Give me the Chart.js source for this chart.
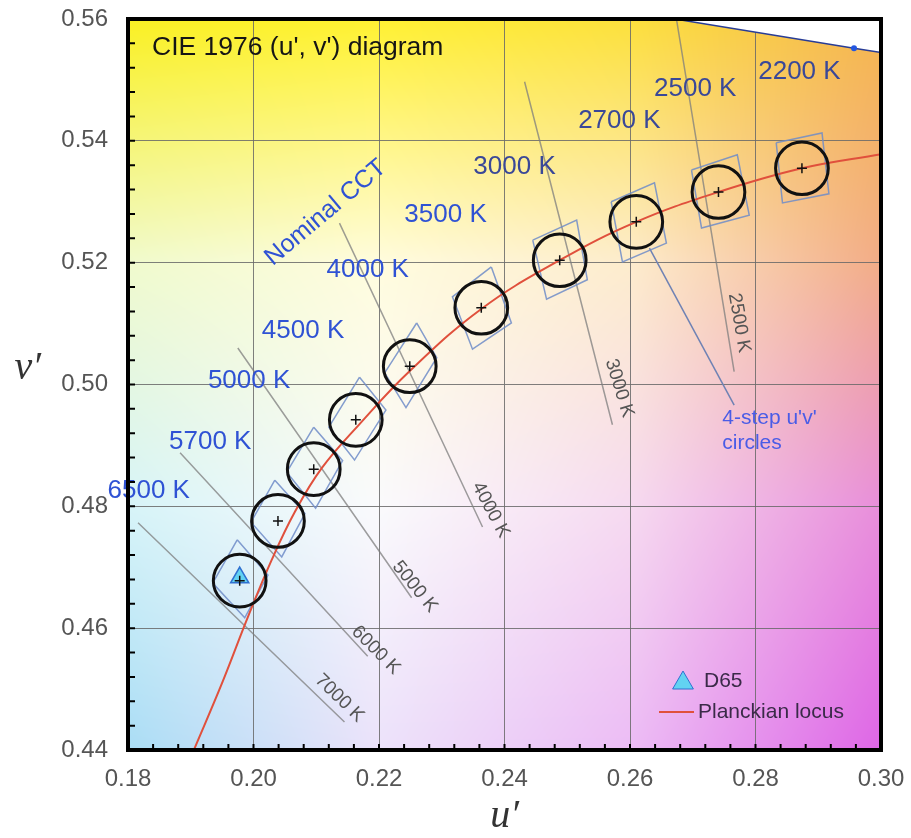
<!DOCTYPE html>
<html>
<head>
<meta charset="utf-8">
<title>CIE 1976 (u', v') diagram</title>
<script src="https://cdn.jsdelivr.net/npm/chart.js@4.4.0/dist/chart.umd.min.js"></script>
<style>
  html, body { margin: 0; padding: 0; background: #fff; }
  #wrap { width: 911px; height: 838px; }
</style>
</head>
<body>
<div id="wrap"><canvas id="cieChart" width="911" height="838"></canvas></div>
<script>
// ---- values, in (u', v') ----

// nominal CCT of each 4-step circle and its centre
var cctLabels = ['6500 K', '5700 K', '5000 K', '4500 K', '4000 K', '3500 K', '3000 K', '2700 K', '2500 K', '2200 K'];
var centerU = [0.1978, 0.2039, 0.2096, 0.2163, 0.2249, 0.2363, 0.2488, 0.2610, 0.2741, 0.2874];
var centerV = [0.4678, 0.4776, 0.4861, 0.4942, 0.5030, 0.5126, 0.5204, 0.5267, 0.5316, 0.5355];
var circleRadius = 0.0042;   // radius of the 4-step circles in u'v' units

// where the blue nominal CCT labels sit
var cctLabelU = [0.1833, 0.1931, 0.1993, 0.2079, 0.2182, 0.2306, 0.2416, 0.2583, 0.2704, 0.2870];
var cctLabelV = [0.4825, 0.4906, 0.5006, 0.5088, 0.5188, 0.5278, 0.5357, 0.5433, 0.5485, 0.5513];

// quadrangle corners round every nominal CCT (same order as cctLabels)
var quadU = [
  [0.1974, 0.2023, 0.1986, 0.1935],
  [0.2034, 0.2082, 0.2045, 0.1996],
  [0.2096, 0.2142, 0.2099, 0.2053],
  [0.2169, 0.2211, 0.2161, 0.2120],
  [0.2260, 0.2292, 0.2243, 0.2209],
  [0.2379, 0.2411, 0.2349, 0.2317],
  [0.2445, 0.2515, 0.2532, 0.2467],
  [0.2570, 0.2639, 0.2658, 0.2588],
  [0.2698, 0.2771, 0.2790, 0.2714],
  [0.2833, 0.2906, 0.2917, 0.2843]
];
var quadV = [
  [0.4745, 0.4687, 0.4617, 0.4674],
  [0.4843, 0.4788, 0.4717, 0.4774],
  [0.4930, 0.4875, 0.4797, 0.4856],
  [0.5012, 0.4958, 0.4876, 0.4930],
  [0.5101, 0.5044, 0.4962, 0.5019],
  [0.5193, 0.5101, 0.5058, 0.5144],
  [0.5237, 0.5270, 0.5172, 0.5140],
  [0.5300, 0.5331, 0.5232, 0.5201],
  [0.5352, 0.5377, 0.5278, 0.5257],
  [0.5397, 0.5413, 0.5313, 0.5298]
];

// Planckian locus
var locusU = [0.1905, 0.1950, 0.1991, 0.2029, 0.2066, 0.2109, 0.2169, 0.2249, 0.2363, 0.2488, 0.2610, 0.2741, 0.2874, 0.3000];
var locusV = [0.4400, 0.4510, 0.4618, 0.4712, 0.4791, 0.4863, 0.4935, 0.5022, 0.5124, 0.5204, 0.5267, 0.5316, 0.5355, 0.5378];

// isotemperature lines with their labels
var isoLabels = ['7000 K', '6000 K', '5000 K', '4000 K', '3000 K', '2500 K'];
var isoStartU = [0.1816, 0.1883, 0.1975, 0.2137, 0.2432, 0.2674];
var isoStartV = [0.4773, 0.4888, 0.5060, 0.5265, 0.5497, 0.5600];
var isoEndU = [0.2145, 0.2182, 0.2252, 0.2365, 0.2572, 0.2766];
var isoEndV = [0.4446, 0.4554, 0.4650, 0.4766, 0.4934, 0.5021];
var isoLabelU = [0.2137, 0.2195, 0.2257, 0.2378, 0.2583, 0.2774];
var isoLabelV = [0.4485, 0.4564, 0.4668, 0.4794, 0.4994, 0.5101];
var isoLabelAngle = [44, 45, 51, 62, 73, 80];

// edge of the spectrum locus in the top right corner
var spectralU = [0.2600, 0.2957, 0.3050];
var spectralV = [0.5612, 0.5552, 0.5537];
var spectralDot = { u: 0.2957, v: 0.5552 };

// D65 white point
var d65 = { u: 0.1978, v: 0.4683 };

// pointer from the "4-step u'v' circles" note
var pointerU = [0.2631, 0.2766];
var pointerV = [0.5224, 0.4966];
var noteU = 0.2747, noteV = [0.4945, 0.4904];
var noteLines = ["4-step u'v'", 'circles'];

// axes
var uMin = 0.18, uMax = 0.30, vMin = 0.44, vMax = 0.56, majorStep = 0.02, minorStep = 0.004;

// ---- build the datasets ----
function pairs(us, vs) {
  return us.map(function (u, i) { return { x: u, y: vs[i] }; });
}

// all quadrangles in one dataset, separated by gaps
var quadPoints = [];
quadU.forEach(function (row, i) {
  for (var k = 0; k <= 4; k++) {
    quadPoints.push({ x: row[k % 4], y: quadV[i][k % 4] });
  }
  quadPoints.push({ x: null, y: null });
});

var isoPoints = [];
isoStartU.forEach(function (u, i) {
  isoPoints.push({ x: u, y: isoStartV[i] });
  isoPoints.push({ x: isoEndU[i], y: isoEndV[i] });
  isoPoints.push({ x: null, y: null });
});

var fontSans = 'Liberation Sans, Arial, sans-serif';

// background colour field of the diagram (4 x 4 control colours)
var bgColors = [
  [[250, 240, 35], [255, 241, 50], [252, 224, 60], [245, 182, 78]],
  [[240, 250, 205], [255, 252, 222], [253, 236, 205], [242, 172, 135]],
  [[215, 244, 248], [250, 250, 252], [246, 218, 240], [232, 142, 218]],
  [[170, 221, 245], [236, 226, 250], [236, 188, 245], [222, 102, 230]]
];

var backgroundPlugin = {
  id: 'cieBackground',
  beforeDraw: function (chart) {
    var a = chart.chartArea, ctx = chart.ctx;
    var w = Math.round(a.right - a.left), h = Math.round(a.bottom - a.top);
    var img = ctx.createImageData(w, h);
    for (var py = 0; py < h; py++) {
      var fy = py / (h - 1) * 3, r0 = Math.min(2, Math.floor(fy)), ty = fy - r0;
      for (var px = 0; px < w; px++) {
        var fx = px / (w - 1) * 3, c0 = Math.min(2, Math.floor(fx)), tx = fx - c0;
        var k = (py * w + px) * 4;
        for (var ch = 0; ch < 3; ch++) {
          var top = bgColors[r0][c0][ch] * (1 - tx) + bgColors[r0][c0 + 1][ch] * tx;
          var bot = bgColors[r0 + 1][c0][ch] * (1 - tx) + bgColors[r0 + 1][c0 + 1][ch] * tx;
          img.data[k + ch] = top * (1 - ty) + bot * ty;
        }
        img.data[k + 3] = 255;
      }
    }
    ctx.putImageData(img, Math.round(a.left), Math.round(a.top));
  }
};

function drawText(ctx, text, x, y, font, color, angle, align) {
  ctx.save();
  ctx.translate(x, y);
  ctx.rotate((angle || 0) * Math.PI / 180);
  ctx.font = font;
  ctx.fillStyle = color;
  ctx.textAlign = align || 'center';
  ctx.textBaseline = 'middle';
  ctx.fillText(text, 0, 0);
  ctx.restore();
}

var annotationPlugin = {
  id: 'cieAnnotations',
  afterDraw: function (chart) {
    var ctx = chart.ctx, xs = chart.scales.x, ys = chart.scales.y, a = chart.chartArea;

    // nominal CCT labels
    cctLabels.forEach(function (t, i) {
      var col = i < 6 ? '#2f52d4' : '#3a4898';
      drawText(ctx, t, xs.getPixelForValue(cctLabelU[i]), ys.getPixelForValue(cctLabelV[i]),
        '26px ' + fontSans, col, 0);
    });
    drawText(ctx, 'Nominal CCT', xs.getPixelForValue(0.2115), ys.getPixelForValue(0.5282),
      '25px ' + fontSans, '#2f52d4', -40);

    // isotemperature line labels
    isoLabels.forEach(function (t, i) {
      drawText(ctx, t, xs.getPixelForValue(isoLabelU[i]), ys.getPixelForValue(isoLabelV[i]),
        '19px ' + fontSans, '#555555', isoLabelAngle[i]);
    });

    // note for the circles
    noteLines.forEach(function (t, i) {
      drawText(ctx, t, xs.getPixelForValue(noteU), ys.getPixelForValue(noteV[i]),
        '21px ' + fontSans, '#4a5ce6', 0, 'left');
    });

    // title inside the plot
    drawText(ctx, "CIE 1976 (u', v') diagram", a.left + 24, a.top + 29, '26.5px ' + fontSans, '#151515', 0, 'left');

    // legend
    var lx = a.right - 198, ly = a.bottom - 69;
    ctx.save();
    ctx.fillStyle = '#62d2f2';
    ctx.strokeStyle = '#2f70d0';
    Chart.helpers.drawPoint(ctx, { pointStyle: 'triangle', radius: 12, borderWidth: 1.5, rotation: 0 }, lx, ly + 2);
    ctx.restore();
    drawText(ctx, 'D65', lx + 21, ly, '21px ' + fontSans, '#3a2a48', 0, 'left');
    ctx.save();
    ctx.strokeStyle = '#e0503c';
    ctx.lineWidth = 2;
    ctx.beginPath();
    ctx.moveTo(lx - 24, ly + 31);
    ctx.lineTo(lx + 11, ly + 31);
    ctx.stroke();
    ctx.restore();
    drawText(ctx, 'Planckian locus', lx + 15, ly + 31, '21px ' + fontSans, '#3a2a48', 0, 'left');

    // minor ticks pointing into the plot
    ctx.save();
    ctx.strokeStyle = '#000';
    ctx.lineWidth = 2;
    ctx.beginPath();
    for (var i = 1; i < Math.round((uMax - uMin) / minorStep); i++) {
      var px = xs.getPixelForValue(uMin + i * minorStep);
      ctx.moveTo(px, a.bottom);
      ctx.lineTo(px, a.bottom - 6);
    }
    for (var j = 1; j < Math.round((vMax - vMin) / minorStep); j++) {
      var py = ys.getPixelForValue(vMin + j * minorStep);
      ctx.moveTo(a.left, py);
      ctx.lineTo(a.left + 7, py);
    }
    ctx.stroke();

    // frame
    ctx.lineWidth = 4;
    ctx.strokeRect(a.left, a.top, a.right - a.left, a.bottom - a.top);
    ctx.restore();

    // axis titles
    drawText(ctx, 'u\u2032', (a.left + a.right) / 2, 816, 'italic 40px Liberation Serif, serif', '#333', 0);
    drawText(ctx, 'v\u2032', 41, 368, 'italic 40px Liberation Serif, serif', '#333', 0, 'right');
  }
};

var datasets = [
  {
    label: 'spectrum locus',
    type: 'line',
    data: pairs(spectralU, spectralV),
    borderColor: '#283c96',
    borderWidth: 1.5,
    backgroundColor: '#ffffff',
    fill: 'end',
    pointRadius: 0,
    tension: 0,
    order: 20
  },
  {
    label: 'isotemperature lines',
    type: 'line',
    data: isoPoints,
    borderColor: 'rgba(125,125,125,0.75)',
    borderWidth: 1.5,
    pointRadius: 0,
    fill: false,
    spanGaps: false,
    tension: 0,
    order: 19
  },
  {
    label: 'pointer',
    type: 'line',
    data: pairs(pointerU, pointerV),
    borderColor: '#6f82b4',
    borderWidth: 1.5,
    pointRadius: 0,
    fill: false,
    tension: 0,
    order: 18
  },
  {
    label: 'quadrangles',
    type: 'line',
    data: quadPoints,
    borderColor: 'rgba(110,140,200,0.85)',
    borderWidth: 1.5,
    pointRadius: 0,
    fill: false,
    spanGaps: false,
    tension: 0,
    order: 17
  },
  {
    label: 'Planckian locus',
    type: 'line',
    data: pairs(locusU, locusV),
    borderColor: '#e0503c',
    borderWidth: 2,
    pointRadius: 0,
    fill: false,
    tension: 0.4,
    order: 16
  },
  {
    label: '4-step circles',
    type: 'scatter',
    data: pairs(centerU, centerV),
    showLine: false,
    pointStyle: 'circle',
    pointRadius: function (c) {
      var s = c.chart.scales.x;
      return s.getPixelForValue(uMin + circleRadius) - s.getPixelForValue(uMin);
    },
    pointBorderWidth: 3,
    pointBorderColor: '#111',
    pointBackgroundColor: 'rgba(0,0,0,0)',
    order: 15
  },
  {
    label: 'D65',
    type: 'scatter',
    data: [{ x: d65.u, y: d65.v }],
    pointStyle: 'triangle',
    pointRadius: 10.5,
    pointBorderWidth: 1.5,
    pointBorderColor: '#2f70d0',
    pointBackgroundColor: '#62d2f2',
    order: 14
  },
  {
    label: 'centres',
    type: 'scatter',
    data: pairs(centerU, centerV),
    pointStyle: 'cross',
    pointRadius: 5,
    pointBorderWidth: 1.5,
    pointBorderColor: '#111',
    order: 13
  },
  {
    label: 'spectrum point',
    type: 'scatter',
    data: [{ x: spectralDot.u, y: spectralDot.v }],
    pointStyle: 'circle',
    pointRadius: 3,
    pointBorderWidth: 0,
    pointBackgroundColor: '#2457e0',
    order: 12
  }
];

var cieChart = new Chart(document.getElementById('cieChart'), {
  type: 'scatter',
  data: { datasets: datasets },
  options: {
    responsive: false,
    animation: false,
    events: [],
    layout: { padding: { left: 0, top: 19, right: 30, bottom: 0 } },
    plugins: { legend: { display: false }, tooltip: { enabled: false } },
    scales: {
      x: {
        type: 'linear',
        min: uMin,
        max: uMax,
        afterFit: function (scale) {
          scale.height = 88;
          scale.paddingLeft = 0;
          scale.paddingRight = 0;
        },
        ticks: {
          stepSize: majorStep,
          padding: 15,
          color: '#555',
          font: { family: fontSans, size: 24 },
          maxRotation: 0,
          callback: function (v) { return v.toFixed(2); }
        },
        grid: { color: 'rgba(105,105,105,0.85)', lineWidth: 1, drawTicks: false },
        border: { display: false }
      },
      y: {
        type: 'linear',
        min: vMin,
        max: vMax,
        afterFit: function (scale) {
          scale.width = 128;
          scale.paddingTop = 0;
          scale.paddingBottom = 0;
        },
        ticks: {
          stepSize: majorStep,
          padding: 20,
          color: '#555',
          font: { family: fontSans, size: 24 },
          callback: function (v) { return v.toFixed(2); }
        },
        grid: { color: 'rgba(105,105,105,0.85)', lineWidth: 1, drawTicks: false },
        border: { display: false }
      }
    }
  },
  plugins: [backgroundPlugin, annotationPlugin]
});
</script>
</body>
</html>
